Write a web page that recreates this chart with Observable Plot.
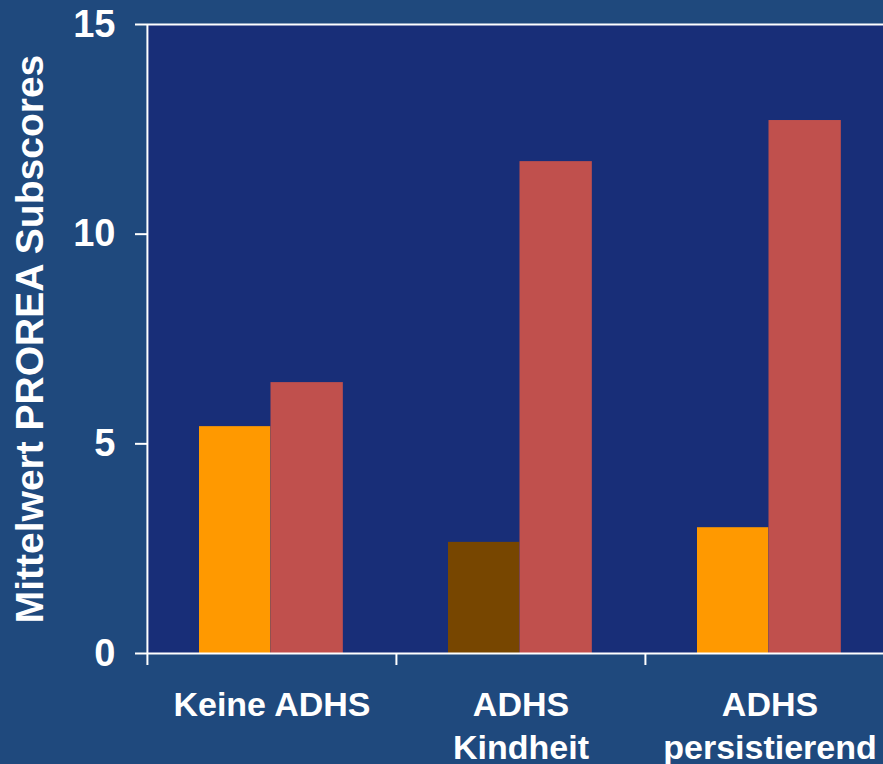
<!DOCTYPE html>
<html>
<head>
<meta charset="utf-8">
<script src="https://cdn.jsdelivr.net/npm/d3@7"></script>
<script src="https://cdn.jsdelivr.net/npm/@observablehq/plot@0.6"></script>
<style>
  html, body { margin: 0; padding: 0; background: #1f497d; overflow: hidden; }
  #chart svg { display: block; }
</style>
</head>
<body>
<div id="chart"></div>
<script>
const categories = ["Keine ADHS", "ADHS Kindheit", "ADHS persistierend"];
const seriesNames = ["Subscore A", "Subscore B"];
const seriesA = [5.41, 2.65, 3.0];
const seriesB = [6.46, 11.73, 12.71];
const yTicks = [0, 5, 10, 15];
const yLabel = "Mittelwert PROREA Subscores";

const rowsA = categories.map((c, i) => ({category: c, series: seriesNames[0], value: seriesA[i],
  key: c === "ADHS Kindheit" ? "A-highlight" : "A"}));
const rowsB = categories.map((c, i) => ({category: c, series: seriesNames[1], value: seriesB[i], key: "B"}));

const W = 883, H = 764;
const mL = 147, mT = 24, mB = 111;
const xEnd = 894.5;
const bw = (xEnd - mL) / categories.length;
const plotH = H - mT - mB;
const font = "Arial, 'Liberation Sans', sans-serif";

const chart = Plot.plot({
  width: W,
  height: H,
  marginLeft: mL,
  marginRight: 0,
  marginTop: mT,
  marginBottom: mB,
  style: {background: "#1f497d", color: "white", fontFamily: font, overflow: "hidden"},
  x: {type: "band", domain: categories, range: [mL, xEnd], padding: 0, axis: null},
  y: {domain: [0, 15], axis: null},
  color: {type: "ordinal", domain: ["A", "A-highlight", "B"], range: ["#ff9900", "#774600", "#c0504d"]},
  marks: [
    Plot.frame({fill: "#182e78", stroke: null}),
    Plot.barY(rowsA, {x: "category", y: "value", fill: "key", insetLeft: 52, insetRight: bw - 123.5}),
    Plot.barY(rowsB, {x: "category", y: "value", fill: "key", insetLeft: 123.5, insetRight: bw - 196}),
    Plot.ruleY([0, 15], {stroke: "white", strokeWidth: 2}),
    Plot.ruleX([categories[0]], {x: d => d, dx: -bw / 2, stroke: "white", strokeWidth: 2, insetBottom: -12}),
    Plot.ruleX(categories.slice(1), {x: d => d, dx: -bw / 2, stroke: "white", strokeWidth: 2, insetTop: plotH, insetBottom: -12}),
    Plot.axisY({ticks: yTicks, tickSize: 12, tickPadding: 20, fontSize: 38, fontWeight: "bold",
      stroke: "white", strokeWidth: 2, color: "white", label: null, tickFormat: d => String(d)}),
    Plot.text([yLabel], {frameAnchor: "left", dx: -117, rotate: -90, text: d => d, fontSize: 39,
      fontWeight: "bold", fill: "white", lineAnchor: "middle", textAnchor: "middle"}),
    Plot.text(categories, {x: d => d, frameAnchor: "bottom", dy: 32, lineAnchor: "top",
      text: d => d.replace("ADHS ", "ADHS\n"), fontSize: 34, fontWeight: "bold", fill: "white",
      lineHeight: 1.27, textAnchor: "middle"})
  ]
});
document.getElementById("chart").appendChild(chart);
</script>
</body>
</html>
